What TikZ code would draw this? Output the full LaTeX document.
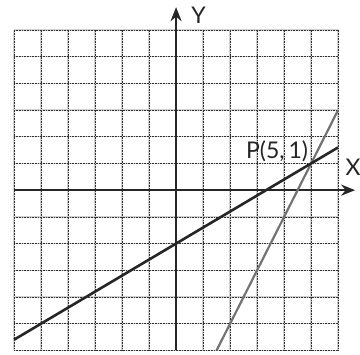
\documentclass[tikz,border=0pt]{standalone}
\usepackage{fontspec}
\setmainfont{Lato}
\usetikzlibrary{arrows.meta}
\begin{document}
\begin{tikzpicture}[x=27pt,y=26.7pt,
  gridbase/.style={draw=black!18,line width=1.4pt},
  griddots/.style={draw=black!80,line width=0.5pt,dash pattern=on 0.8pt off 0.8pt},
  axis/.style={draw=black!85,line width=2.2pt,-{Stealth[length=14pt,width=11pt]}},
  blackline/.style={draw=black!85,line width=2.6pt},
  grayline/.style={draw=black!55,line width=2.2pt},
  lbl/.style={font=\fontsize{23}{25}\selectfont,text=black!85,inner sep=0pt}]
\useasboundingbox[fill=white] (-6.52,-6.14) rectangle (6.81,7.12);
\foreach \i in {-6,...,6} {
  \draw[gridbase] (\i,-6) -- (\i,6);
  \draw[gridbase] (-6,\i) -- (6,\i);
}
\foreach \i in {-6,...,6} {
  \draw[griddots] (\i,-6) -- (\i,6);
  \draw[griddots] (-6,\i) -- (6,\i);
}
\coordinate (xs) at (-6,0);
\coordinate (xe) at (6.63,0);
\coordinate (ys) at (0,-6);
\coordinate (ye) at (0,6.85);
\draw[axis] (xs) -- (xe);
\draw[axis] (ys) -- (ye);
\coordinate (a1) at (-6,-5.6);
\coordinate (a2) at (6,1.6);
\coordinate (b1) at (1.5,-6);
\coordinate (b2) at (6,3);
\draw[grayline] (b1) -- (b2);
\draw[blackline] (a1) -- (a2);
\node[lbl] (xl) at (6.55,0.86) {X};
\node[lbl] (yl) at (0.83,6.55) {Y};
\node[lbl] (pl) at (3.74,1.45) {P(5,\,1)};
\end{tikzpicture}
\end{document}
